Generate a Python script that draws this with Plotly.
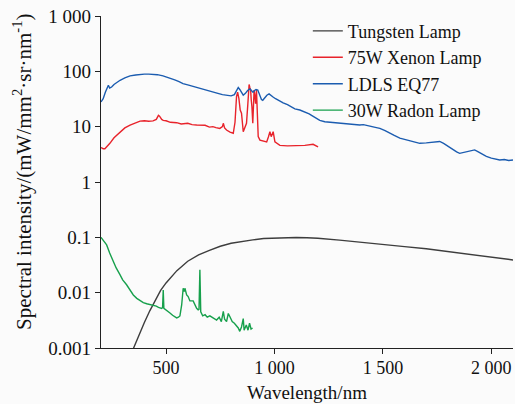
import plotly.graph_objects as go

# ---- data ----
tungsten_wl = [340, 350, 375, 400, 425, 450, 475, 500, 550, 600, 650, 700, 750, 800, 850, 900, 950,
               1000, 1050, 1100, 1150, 1200, 1300, 1400, 1500, 1600, 1700, 1800, 1900, 2000, 2100]
tungsten_val = [0.0008, 0.001, 0.0017, 0.0029, 0.0047, 0.0073, 0.0110, 0.0150, 0.025, 0.037, 0.048,
                0.058, 0.069, 0.078, 0.085, 0.090, 0.095, 0.097, 0.099, 0.099, 0.098, 0.096, 0.089,
                0.082, 0.075, 0.068, 0.062, 0.055, 0.049, 0.044, 0.039]

xenon_wl = [200, 210, 218, 230, 241, 260, 288, 310, 334, 360, 380, 400, 420, 440, 455, 465, 470, 480,
            487, 500, 520, 549, 570, 600, 620, 641, 660, 680, 700, 716, 730, 748, 760, 764, 770, 779,
            795, 810, 818, 825, 830, 836, 842, 848, 856, 864, 871, 877, 883, 887, 890, 893, 896, 900,
            903, 906, 910, 913, 917, 920, 925, 933, 950, 964, 972, 979, 985, 994, 1002, 1015, 1025,
            1060, 1102, 1140, 1178, 1190, 1201]
xenon_val = [4.2, 4.0, 4.0, 4.4, 5.0, 6.3, 8.1, 9.5, 10.7, 11.8, 12.6, 12.8, 12.5, 12.7, 13.5, 16, 15.5,
             13.5, 13, 12.8, 12.0, 11.8, 11.2, 11.5, 10.9, 10.7, 10.5, 10.6, 9.8, 10, 9.6, 9.3, 10,
             11.5, 9.5, 8.7, 8.0, 7.6, 12, 35, 42, 32, 20, 17.5, 8.1, 9.5, 11.5, 25, 58, 50, 46, 30,
             23, 11.5, 20, 46, 35, 26, 46, 20, 6.6, 5.7, 5.5, 5.3, 6.5, 8.1, 6.6, 8.1, 5.3, 4.8, 4.6,
             4.5, 4.5, 4.6, 4.8, 4.5, 4.3]

ldls_wl = [200, 210, 220, 226, 230, 234, 240, 249, 260, 275, 288, 310, 334, 360, 380, 400, 420, 440,
           460, 486, 500, 518, 540, 560, 578, 600, 620, 640, 656, 680, 702, 720, 739, 760, 787, 800,
           815, 825, 833, 840, 848, 856, 866, 876, 887, 895, 901, 908, 915, 923, 930, 940, 946, 955,
           965, 975, 985, 995, 1005, 1016, 1040, 1060, 1080, 1094, 1117, 1140, 1160, 1171, 1190,
           1209, 1232, 1260, 1280, 1301, 1320, 1340, 1360, 1380, 1393, 1410, 1430, 1450, 1470, 1486,
           1510, 1530, 1550, 1578, 1600, 1620, 1645, 1670, 1700, 1720, 1740, 1762, 1780, 1800, 1820,
           1840, 1854, 1870, 1890, 1905, 1923, 1940, 1960, 1977, 2000, 2020, 2039, 2060, 2080, 2100]
ldls_val = [28, 32, 42, 49, 52, 56, 50, 52, 58, 64, 69, 76, 83, 86, 88, 89, 89, 88, 87, 83, 80, 74, 70,
            65, 60, 57, 54, 51, 49, 46, 43, 41, 40, 38, 37, 36, 38, 45, 51, 47, 41, 37, 40, 45, 48, 45,
            42, 45, 47, 46, 40, 31, 30, 33, 37, 39, 37, 34, 32, 30, 27, 25, 22.5, 21, 20, 18.5, 17, 16,
            14.5, 13, 12.3, 12, 11.6, 11.5, 11.2, 11.0, 10.9, 10.6, 10.7, 10.9, 10.3, 10.0, 9.6, 9.3,
            8.5, 7.6, 7.0, 6.2, 5.9, 5.7, 5.4, 5.0, 5.1, 5.2, 5.3, 5.4, 5.0, 4.4, 3.9, 3.5, 3.3, 3.4,
            3.5, 3.7, 3.8, 3.5, 3.1, 2.9, 2.7, 2.6, 2.5, 2.55, 2.45, 2.5]

radon_wl = [200, 203, 215, 226, 240, 257, 270, 288, 300, 318, 335, 349, 365, 380, 395, 411, 425, 441,
            455, 465, 472, 480, 484, 487, 490, 500, 518, 530, 549, 557, 564, 572, 579, 584, 587, 595,
            602, 610, 625, 641, 648, 652, 656, 660, 669, 680, 690, 702, 715, 733, 745, 755, 764, 770,
            779, 787, 794, 805, 815, 825, 833, 840, 848, 856, 860, 870, 878, 885, 892, 899]
radon_val = [0.1, 0.096, 0.085, 0.073, 0.052, 0.0365, 0.028, 0.021, 0.017, 0.0139, 0.011, 0.0091,
             0.0079, 0.0071, 0.0066, 0.0063, 0.0061, 0.0059, 0.0057, 0.0054, 0.0053, 0.0052, 0.0054,
             0.0112, 0.0052, 0.0049, 0.0043, 0.0039, 0.0035, 0.0036, 0.0038, 0.006, 0.012, 0.0105,
             0.012, 0.0091, 0.0085, 0.0071, 0.0071, 0.0052, 0.0049, 0.0050, 0.026, 0.0045, 0.0038,
             0.0040, 0.0036, 0.0038, 0.0035, 0.0032, 0.0036, 0.0030, 0.0046, 0.0033, 0.003, 0.0042,
             0.0037, 0.0030, 0.0028, 0.0025, 0.0023, 0.002, 0.0024, 0.0034, 0.0021, 0.0026, 0.0021,
             0.0028, 0.0022, 0.0023]

y_tickvals = [0.001, 0.01, 0.1, 1, 10, 100, 1000]
y_ticktext = ["0.001", "0.01", "0.1", "1", "10", "100", "1 000"]
x_tickvals = [500, 1000, 1500, 2000]
x_ticktext = ["500", "1 000", "1 500", "2 000"]

FONT = "Liberation Serif, Times New Roman, serif"

fig = go.Figure()
series = [
    ("Tungsten Lamp", tungsten_wl, tungsten_val, "#3d3d3d"),
    ("75W Xenon Lamp", xenon_wl, xenon_val, "#e8232b"),
    ("LDLS EQ77", ldls_wl, ldls_val, "#1b5cb0"),
    ("30W Radon Lamp", radon_wl, radon_val, "#17a04c"),
]
for name, x, y, c in series:
    fig.add_trace(go.Scatter(x=x, y=y, mode="lines", name=name,
                             line=dict(color=c, width=1.4)))

fig.update_layout(
    width=515, height=404,
    margin=dict(l=101, r=2, t=16, b=56),
    paper_bgcolor="#fbfbfb", plot_bgcolor="#fbfbfb",
    font=dict(family=FONT, size=19, color="#111111"),
    showlegend=True,
    legend=dict(x=0.502, y=1.01, xanchor="left", yanchor="top",
                font=dict(family=FONT, size=18, color="#111111"),
                bgcolor="rgba(0,0,0,0)", tracegroupgap=0),
    xaxis=dict(range=[200, 2100], showgrid=False, zeroline=False,
               showline=True, linecolor="#222222", linewidth=1.2,
               ticks="outside", ticklen=5, tickcolor="#222222", tickwidth=1.2,
               tickvals=x_tickvals, ticktext=x_ticktext, ticklabelstandoff=-2,
               title=dict(text="Wavelength/nm", standoff=8, font=dict(size=19)),
               tickfont=dict(size=18)),
    yaxis=dict(type="log", range=[-3, 3], showgrid=False, zeroline=False,
               showline=True, linecolor="#222222", linewidth=1.2,
               ticks="outside", ticklen=5, tickcolor="#222222", tickwidth=1.2,
               tickvals=y_tickvals, ticktext=y_ticktext,
               tickfont=dict(size=19)),
    annotations=[dict(text="Spectral intensity/(mW/mm<sup>2</sup>·sr·nm<sup>-1</sup>)",
                      xref="paper", yref="paper", x=-0.192, y=0.53,
                      xanchor="center", yanchor="middle", textangle=-90,
                      showarrow=False, font=dict(family=FONT, size=21, color="#111111"))],
)

fig.write_html("out.html")
